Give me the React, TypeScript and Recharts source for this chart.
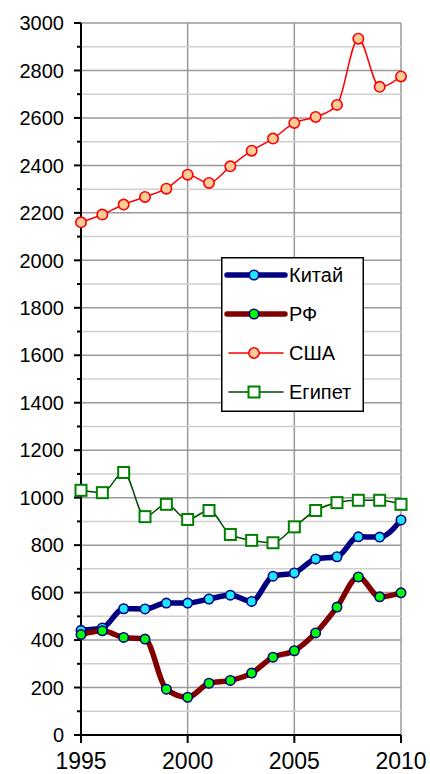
import React from 'react';
import {
    LineChart, Line, XAxis, YAxis, CartesianGrid, ReferenceLine, Legend
} from 'recharts';

const years = [1995, 1996, 1997, 1998, 1999, 2000, 2001, 2002, 2003, 2004, 2005, 2006, 2007, 2008, 2009, 2010];
const china = [441, 451, 532, 531, 556, 556, 573, 589, 563, 669, 683, 742, 751, 835, 834, 906];
const rf = [423, 439, 411, 404, 193, 159, 218, 230, 261, 328, 355, 430, 539, 666, 582, 599];
const usa = [2160, 2193, 2235, 2267, 2302, 2361, 2326, 2396, 2462, 2513, 2579, 2604, 2655, 2934, 2731, 2775];
const egypt = [1031, 1021, 1106, 920, 972, 908, 946, 845, 820, 810, 877, 946, 979, 989, 989, 972];

const xTicks = [1995, 2000, 2005, 2010];
const yMajor = [0, 200, 400, 600, 800, 1000, 1200, 1400, 1600, 1800, 2000, 2200, 2400, 2600, 2800, 3000];
const yMinor = [100, 300, 500, 700, 900, 1100, 1300, 1500, 1700, 1900, 2100, 2300, 2500, 2700, 2900];
const yTicks = [...yMajor, ...yMinor].sort((a, b) => a - b);

const data = years.map((y, i) => ({
    year: y,
    china: china[i],
    rf: rf[i],
    usa: usa[i],
    egypt: egypt[i],
}));

const FONT = '"Liberation Sans", Arial, sans-serif';

type SeriesCfg = {
    key: string;
    name: string;
    stroke: string;
    width: number;
    fill: string;
    dotStroke: string;
    square?: boolean;
};

const series: SeriesCfg[] = [
    { key: 'china', name: 'Китай', stroke: '#000080', width: 5.5, fill: '#1EE6FF', dotStroke: '#000080' },
    { key: 'rf', name: 'РФ', stroke: '#800000', width: 5.5, fill: '#00FF00', dotStroke: '#000080' },
    { key: 'usa', name: 'США', stroke: '#FF0000', width: 1.5, fill: '#FFCC99', dotStroke: '#FF0000' },
    { key: 'egypt', name: 'Египет', stroke: '#004D00', width: 1.5, fill: '#FFFFFF', dotStroke: '#008000', square: true },
];

const Marker = ({ cfg, cx, cy }: { cfg: SeriesCfg; cx: number; cy: number }) => {
    if (cfg.square) {
        return <rect x={cx - 5.5} y={cy - 5.5} width={11} height={11} fill={cfg.fill} stroke={cfg.dotStroke} strokeWidth={2} />;
    }
    const r = cfg.key === 'usa' ? 5.2 : 4.7;
    return <circle cx={cx} cy={cy} r={r} fill={cfg.fill} stroke={cfg.dotStroke} strokeWidth={1.6} />;
};

const YTick = (props: any) => {
    const { x, y, payload } = props;
    const v = payload.value;
    const axisX = x + 17;
    const major = v % 200 === 0;
    return (
        <g>
            <line x1={axisX - (major ? 7 : 4)} x2={axisX} y1={y} y2={y} stroke="#000" strokeWidth={2} />
            {major && (
                <text x={x} y={y} dy="0.36em" textAnchor="end" fill="#000" fontSize={20} fontFamily={FONT}>
                    {v}
                </text>
            )}
        </g>
    );
};

const XTick = (props: any) => {
    const { x, y, payload } = props;
    return (
        <text x={x} y={y} dy="0.72em" textAnchor="middle" fill="#000" fontSize={23} fontFamily={FONT}>
            {payload.value}
        </text>
    );
};

const LegendBox = () => (
    <svg width={143} height={155}>
        <rect x={0.75} y={0.75} width={141.5} height={153.5} fill="#fff" stroke="#000" strokeWidth={1.5} />
        {series.map((s, i) => {
            const cy = 18 + i * 39;
            const thick = s.width > 3;
            return (
                <g key={s.key}>
                    <line x1={thick ? 6 : 8} x2={thick ? 64 : 62} y1={cy} y2={cy} stroke={s.stroke}
                        strokeWidth={s.width} strokeLinecap="round" />
                    <Marker cfg={s} cx={33} cy={cy} />
                    <text x={68} y={cy} dy="0.36em" fontSize={20} fontFamily={FONT} fill="#000">{s.name}</text>
                </g>
            );
        })}
    </svg>
);

export default function App() {
    return (
        <div style={{ position: 'absolute', left: 0, top: 0, width: 430, height: 774, background: '#fff' }}>
            <LineChart width={430} height={774} data={data} margin={{ top: 23, right: 29, bottom: 0, left: 0 }}>
                <CartesianGrid horizontal={false} stroke="#999" strokeWidth={1.5} />
                {yMinor.map(v => (
                    <ReferenceLine key={'mi' + v} y={v} stroke="#cfcfcf" strokeWidth={1.5} />
                ))}
                {yMajor.map(v => (
                    <ReferenceLine key={'ma' + v} y={v} stroke="#999" strokeWidth={1.5} />
                ))}
                <XAxis
                    dataKey="year"
                    type="number"
                    domain={[1995, 2010]}
                    ticks={xTicks}
                    interval={0}
                    height={39}
                    tickSize={8}
                    tickMargin={9}
                    stroke="#000"
                    strokeWidth={2}
                    tick={<XTick />}
                />
                <YAxis
                    type="number"
                    domain={[0, 3000]}
                    ticks={yTicks}
                    interval={0}
                    width={81}
                    tickSize={7}
                    tickMargin={10}
                    tickLine={false}
                    stroke="#000"
                    strokeWidth={2}
                    tick={<YTick />}
                />
                {series.map(s => (
                    <Line
                        key={s.key}
                        dataKey={s.key}
                        name={s.name}
                        type="monotone"
                        stroke={s.stroke}
                        strokeWidth={s.width}
                        strokeLinejoin="round"
                        strokeLinecap="round"
                        isAnimationActive={false}
                        dot={(p: any) => <Marker key={s.key + p.index} cfg={s} cx={p.cx} cy={p.cy} />}
                        activeDot={false}
                    />
                ))}
                <Legend
                    layout="vertical"
                    align="center"
                    verticalAlign="middle"
                    content={() => <LegendBox />}
                    wrapperStyle={{ position: 'absolute', left: 221, top: 257, width: 143, height: 155 }}
                />
            </LineChart>
        </div>
    );
}
